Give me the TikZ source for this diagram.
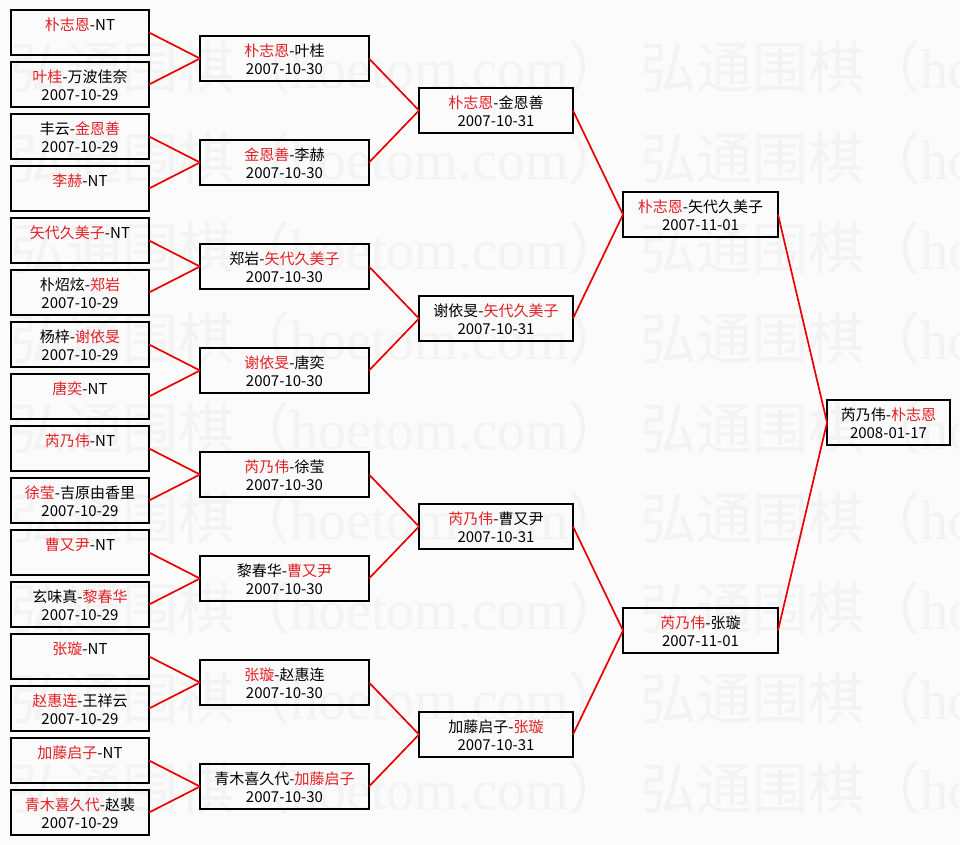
\documentclass[tikz,border=0pt]{standalone}
\usepackage{fontspec}
\newfontfamily\cjk{Noto Sans CJK SC}
\newfontfamily\wmserif{Liberation Serif}
\definecolor{namered}{RGB}{226,32,36}
\definecolor{linkred}{RGB}{235,0,0}
\definecolor{wmgray}{RGB}{243,243,243}
\definecolor{bgcol}{RGB}{251,251,251}
\newcommand\RN[1]{\textcolor{namered}{#1}}
\newcommand\mkboxtwo[6]{%
  \node[box, minimum width=#4pt] (#1) at (#2,#3) {};
  \node[nametxt] (#1n) at ([yshift=-20.8pt]#1.north) {#5};
  \node[datetxt] (#1d) at ([yshift=-38.8pt]#1.north) {#6};}
\newcommand\mkboxone[5]{%
  \node[box, minimum width=#4pt] (#1) at (#2,#3) {};
  \node[nametxt] (#1n) at ([yshift=-20.8pt]#1.north) {#5};}
\begin{document}
\begin{tikzpicture}[x=1pt,y=-1pt,
  box/.style={draw=black, line width=1.8pt, minimum height=45pt, inner sep=0pt, outer sep=0pt, anchor=north west},
  nametxt/.style={anchor=base, inner sep=0pt, font=\cjk\fontsize{15}{18}\selectfont, text=black},
  datetxt/.style={anchor=base, inner sep=0pt, font=\cjk\fontsize{15}{18}\selectfont, text=black},
  link/.style={draw=linkred, line width=1.7pt},
  wm/.style={anchor=base west, inner sep=0pt, text=wmgray, font=\fontsize{56}{60}\selectfont}]
\fill[bgcol] (0,0) rectangle (960,845);
\useasboundingbox (0,0) rectangle (960,845);
\begin{scope}
\clip (0,0) rectangle (960,845);
\foreach \k in {0,...,8} {
  \node[wm] (wma\k) at (10,{89+90*\k}) {{\cjk 弘通围棋（}{\wmserif hoetom.com}{\cjk ）}};
  \node[wm] (wmb\k) at (640,{89+90*\k}) {{\cjk 弘通围棋（}{\wmserif hoetom.com}{\cjk ）}};
}
\end{scope}
% column 1
\mkboxone{a0}{11}{10}{138}{\RN{朴志恩}-NT}
\mkboxtwo{a1}{11}{62}{138}{\RN{叶桂}-万波佳奈}{2007-10-29}
\mkboxtwo{a2}{11}{114}{138}{丰云-\RN{金恩善}}{2007-10-29}
\mkboxone{a3}{11}{166}{138}{\RN{李赫}-NT}
\mkboxone{a4}{11}{218}{138}{\RN{矢代久美子}-NT}
\mkboxtwo{a5}{11}{270}{138}{朴炤炫-\RN{郑岩}}{2007-10-29}
\mkboxtwo{a6}{11}{322}{138}{杨梓-\RN{谢依旻}}{2007-10-29}
\mkboxone{a7}{11}{374}{138}{\RN{唐奕}-NT}
\mkboxone{a8}{11}{426}{138}{\RN{芮乃伟}-NT}
\mkboxtwo{a9}{11}{478}{138}{\RN{徐莹}-吉原由香里}{2007-10-29}
\mkboxone{a10}{11}{530}{138}{\RN{曹又尹}-NT}
\mkboxtwo{a11}{11}{582}{138}{玄味真-\RN{黎春华}}{2007-10-29}
\mkboxone{a12}{11}{634}{138}{\RN{张璇}-NT}
\mkboxtwo{a13}{11}{686}{138}{\RN{赵惠连}-王祥云}{2007-10-29}
\mkboxone{a14}{11}{738}{138}{\RN{加藤启子}-NT}
\mkboxtwo{a15}{11}{790}{138}{\RN{青木喜久代}-赵裴}{2007-10-29}
% column 2
\mkboxtwo{b0}{200}{36}{169}{\RN{朴志恩}-叶桂}{2007-10-30}
\mkboxtwo{b1}{200}{140}{169}{\RN{金恩善}-李赫}{2007-10-30}
\mkboxtwo{b2}{200}{244}{169}{郑岩-\RN{矢代久美子}}{2007-10-30}
\mkboxtwo{b3}{200}{348}{169}{\RN{谢依旻}-唐奕}{2007-10-30}
\mkboxtwo{b4}{200}{452}{169}{\RN{芮乃伟}-徐莹}{2007-10-30}
\mkboxtwo{b5}{200}{556}{169}{黎春华-\RN{曹又尹}}{2007-10-30}
\mkboxtwo{b6}{200}{660}{169}{\RN{张璇}-赵惠连}{2007-10-30}
\mkboxtwo{b7}{200}{764}{169}{青木喜久代-\RN{加藤启子}}{2007-10-30}
% column 3
\mkboxtwo{c0}{419}{88}{154}{\RN{朴志恩}-金恩善}{2007-10-31}
\mkboxtwo{c1}{419}{296}{154}{谢依旻-\RN{矢代久美子}}{2007-10-31}
\mkboxtwo{c2}{419}{504}{154}{\RN{芮乃伟}-曹又尹}{2007-10-31}
\mkboxtwo{c3}{419}{712}{154}{加藤启子-\RN{张璇}}{2007-10-31}
% column 4
\mkboxtwo{d0}{623}{192}{155}{\RN{朴志恩}-矢代久美子}{2007-11-01}
\mkboxtwo{d1}{623}{608}{155}{\RN{芮乃伟}-张璇}{2007-11-01}
% column 5
\mkboxtwo{e0}{827}{400}{123}{芮乃伟-\RN{朴志恩}}{2008-01-17}
% connectors
\foreach \i [evaluate=\i as \j using {int(2*\i)}, evaluate=\i as \k using {int(2*\i+1)}] in {0,...,7} {
  \draw[link] (a\j.east) -- (b\i.west);
  \draw[link] (a\k.east) -- (b\i.west);
}
\foreach \i [evaluate=\i as \j using {int(2*\i)}, evaluate=\i as \k using {int(2*\i+1)}] in {0,...,3} {
  \draw[link] (b\j.east) -- (c\i.west);
  \draw[link] (b\k.east) -- (c\i.west);
}
\foreach \i [evaluate=\i as \j using {int(2*\i)}, evaluate=\i as \k using {int(2*\i+1)}] in {0,1} {
  \draw[link] (c\j.east) -- (d\i.west);
  \draw[link] (c\k.east) -- (d\i.west);
}
\draw[link] (d0.east) -- (e0.west);
\draw[link] (d1.east) -- (e0.west);
\end{tikzpicture}
\end{document}
